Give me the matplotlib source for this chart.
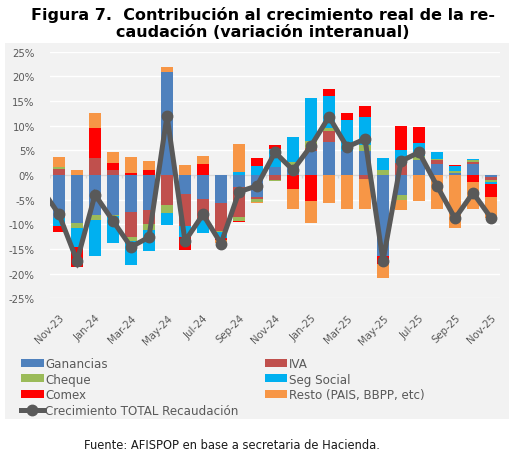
import numpy as np
import matplotlib
matplotlib.use("Agg")
import matplotlib.pyplot as plt
from matplotlib.patches import Rectangle, Patch
from matplotlib.lines import Line2D

# monthly contributions (percentage points)
months = ['Nov-23', 'Dec-23', 'Jan-24', 'Feb-24', 'Mar-24', 'Apr-24', 'May-24', 'Jun-24',
          'Jul-24', 'Aug-24', 'Sep-24', 'Oct-24', 'Nov-24', 'Dec-24', 'Jan-25', 'Feb-25',
          'Mar-25', 'Apr-25', 'May-25', 'Jun-25', 'Jul-25', 'Aug-25', 'Sep-25', 'Oct-25', 'Nov-25']

ganancias = [-8.7, -9.7, -8.1, -8.1, -7.6, -7.0, 20.8, -3.9, -4.8, -5.7, -2.4, -4.4, 1.6,
             2.0, 4.9, 6.6, 4.8, 4.9, -16.5, -4.0, 3.0, 2.2, 0.4, 2.2, -0.5]
iva = [1.2, 0.0, 3.4, 1.0, -5.0, -2.9, -6.0, -6.5, -4.3, -5.6, -6.2, -0.5, -1.1,
       0.0, 0.5, 2.4, 0.0, -0.9, 0.0, 2.4, 0.0, 0.8, 0.0, 0.4, -0.6]
cheque = [0.5, -1.0, -1.1, -0.3, -0.8, -1.2, -1.7, 0.0, 0.0, -0.2, -0.7, -0.6, -0.2,
          0.7, 1.5, 0.5, 0.0, 1.2, 1.0, -1.0, 0.8, 0.2, 0.4, 0.4, -0.4]
seg_social = [-1.6, -3.8, -7.3, -5.4, -4.8, -4.4, -2.4, -2.1, -2.7, -1.2, 0.7, 1.9, 3.6,
              5.1, 8.8, 6.6, 6.3, 5.7, 2.5, 2.7, 2.6, 1.5, 1.0, 0.3, -0.4]
comex = [-1.3, -4.1, 6.2, 1.4, 0.4, 1.0, 0.0, -2.7, 2.2, -0.4, -0.3, 1.5, 0.8,
         -2.8, -5.3, 1.3, 1.4, 2.2, -1.5, 4.8, 3.4, 0.0, 0.2, -1.5, -2.5]
resto = [1.9, 1.0, 2.9, 2.2, 3.3, 1.9, 1.1, 2.0, 1.6, -0.6, 5.6, -0.2, 0.0,
         -4.0, -4.5, -5.6, -6.8, -5.9, -2.8, -2.1, -5.3, -6.8, -10.7, -5.4, -4.3]

# total growth; previous month (Oct-23) only enters the line from the left edge
total_prev = -2.6
total = [-8.0, -17.4, -4.0, -9.3, -14.6, -12.6, 12.0, -13.4, -8.0, -13.9, -3.4, -2.2, 4.6,
         1.0, 5.9, 11.8, 5.7, 7.3, -17.4, 2.8, 4.6, -2.2, -8.8, -3.6, -8.7]

series = [
    ('Ganancias', ganancias, '#4F81BD'),
    ('IVA', iva, '#C0504D'),
    ('Cheque', cheque, '#9BBB59'),
    ('Seg Social', seg_social, '#00B0F0'),
    ('Comex', comex, '#FF0000'),
    ('Resto (PAIS, BBPP, etc)', resto, '#F79646'),
]

plt.rcParams['font.family'] = ['DejaVu Sans']
grey_txt = '#595959'
bg = '#F2F2F2'

fig = plt.figure(figsize=(5.16, 4.52), dpi=100)
fig.patches.append(Rectangle((5 / 516, 1 - 420 / 452), 504 / 516, 376 / 452,
                             transform=fig.transFigure, facecolor=bg, edgecolor='none', zorder=-5))

ax = fig.add_axes([50 / 516, 1 - 299.3 / 452, 450 / 516, 246.6 / 452])
ax.set_facecolor(bg)

x = np.arange(len(months))
pos_bottom = np.zeros(len(months))
neg_bottom = np.zeros(len(months))
handles = {}
for name, vals, color in series:
    v = np.array(vals)
    bottom = np.where(v >= 0, pos_bottom, neg_bottom)
    ax.bar(x, v, 0.65, bottom=bottom, color=color, zorder=3, linewidth=0)
    pos_bottom = pos_bottom + np.where(v > 0, v, 0)
    neg_bottom = neg_bottom + np.where(v < 0, v, 0)
    handles[name] = Patch(facecolor=color, edgecolor='none')

line_x = np.concatenate([[-1], x])
line_y = np.concatenate([[total_prev], total])
ax.plot(line_x, line_y, color='#595959', linewidth=3.6, marker='o', markersize=7.5,
        zorder=5, solid_joinstyle='miter')
handles['line'] = Line2D([], [], color='#595959', linewidth=3.6, marker='o', markersize=7.5)

ax.set_xlim(-0.5, len(months) - 0.5)
ax.set_ylim(-25, 25)
ax.set_yticks(np.arange(-25, 26, 5))
ax.set_yticklabels([f'{t}%' for t in range(-25, 26, 5)])
ax.grid(axis='y', color='white', linewidth=1.0, zorder=1)
ax.axhline(0, color='#D9D9D9', linewidth=1.0, zorder=2)
ax.vlines(np.arange(-0.5, len(months), 2), -0.6, 0, color='#D9D9D9', linewidth=1.0, zorder=2)

ax.set_xticks(x[::2])
ax.set_xticklabels(months[::2], rotation=45, ha='right', rotation_mode='anchor')
ax.tick_params(axis='x', length=0, pad=10, labelsize=7.3, colors=grey_txt)
ax.tick_params(axis='y', length=0, pad=11, labelsize=7.3, colors=grey_txt)
for s in ax.spines.values():
    s.set_visible(False)

order = ['Ganancias', 'Cheque', 'Comex', 'line', 'IVA', 'Seg Social', 'Resto (PAIS, BBPP, etc)']
labels = {'line': 'Crecimiento TOTAL Recaudación'}
leg = fig.legend([handles[k] for k in order], [labels.get(k, k) for k in order],
                 ncol=2, loc='upper left', bbox_to_anchor=(21 / 516, 1 - 358 / 452),
                 frameon=False, fontsize=8.6, handlelength=1.9, handleheight=0.65,
                 handletextpad=0.12, labelspacing=0.22, columnspacing=2.2,
                 borderaxespad=0, borderpad=0)
for t in leg.get_texts():
    t.set_color(grey_txt)

fig.text(0.51, 1 - 23.5 / 452, 'Figura 7.  Contribución al crecimiento real de la re-\ncaudación (variación interanual)',
         ha='center', va='center', fontsize=11.5, fontweight='bold',
         linespacing=1.1, color='black')
fig.text(232 / 516, 1 - 446 / 452, 'Fuente: AFISPOP en base a secretaria de Hacienda.',
         ha='center', va='center', fontsize=8.3, color='#1a1a1a')

fig.savefig('out.png', dpi=100, facecolor='white')
